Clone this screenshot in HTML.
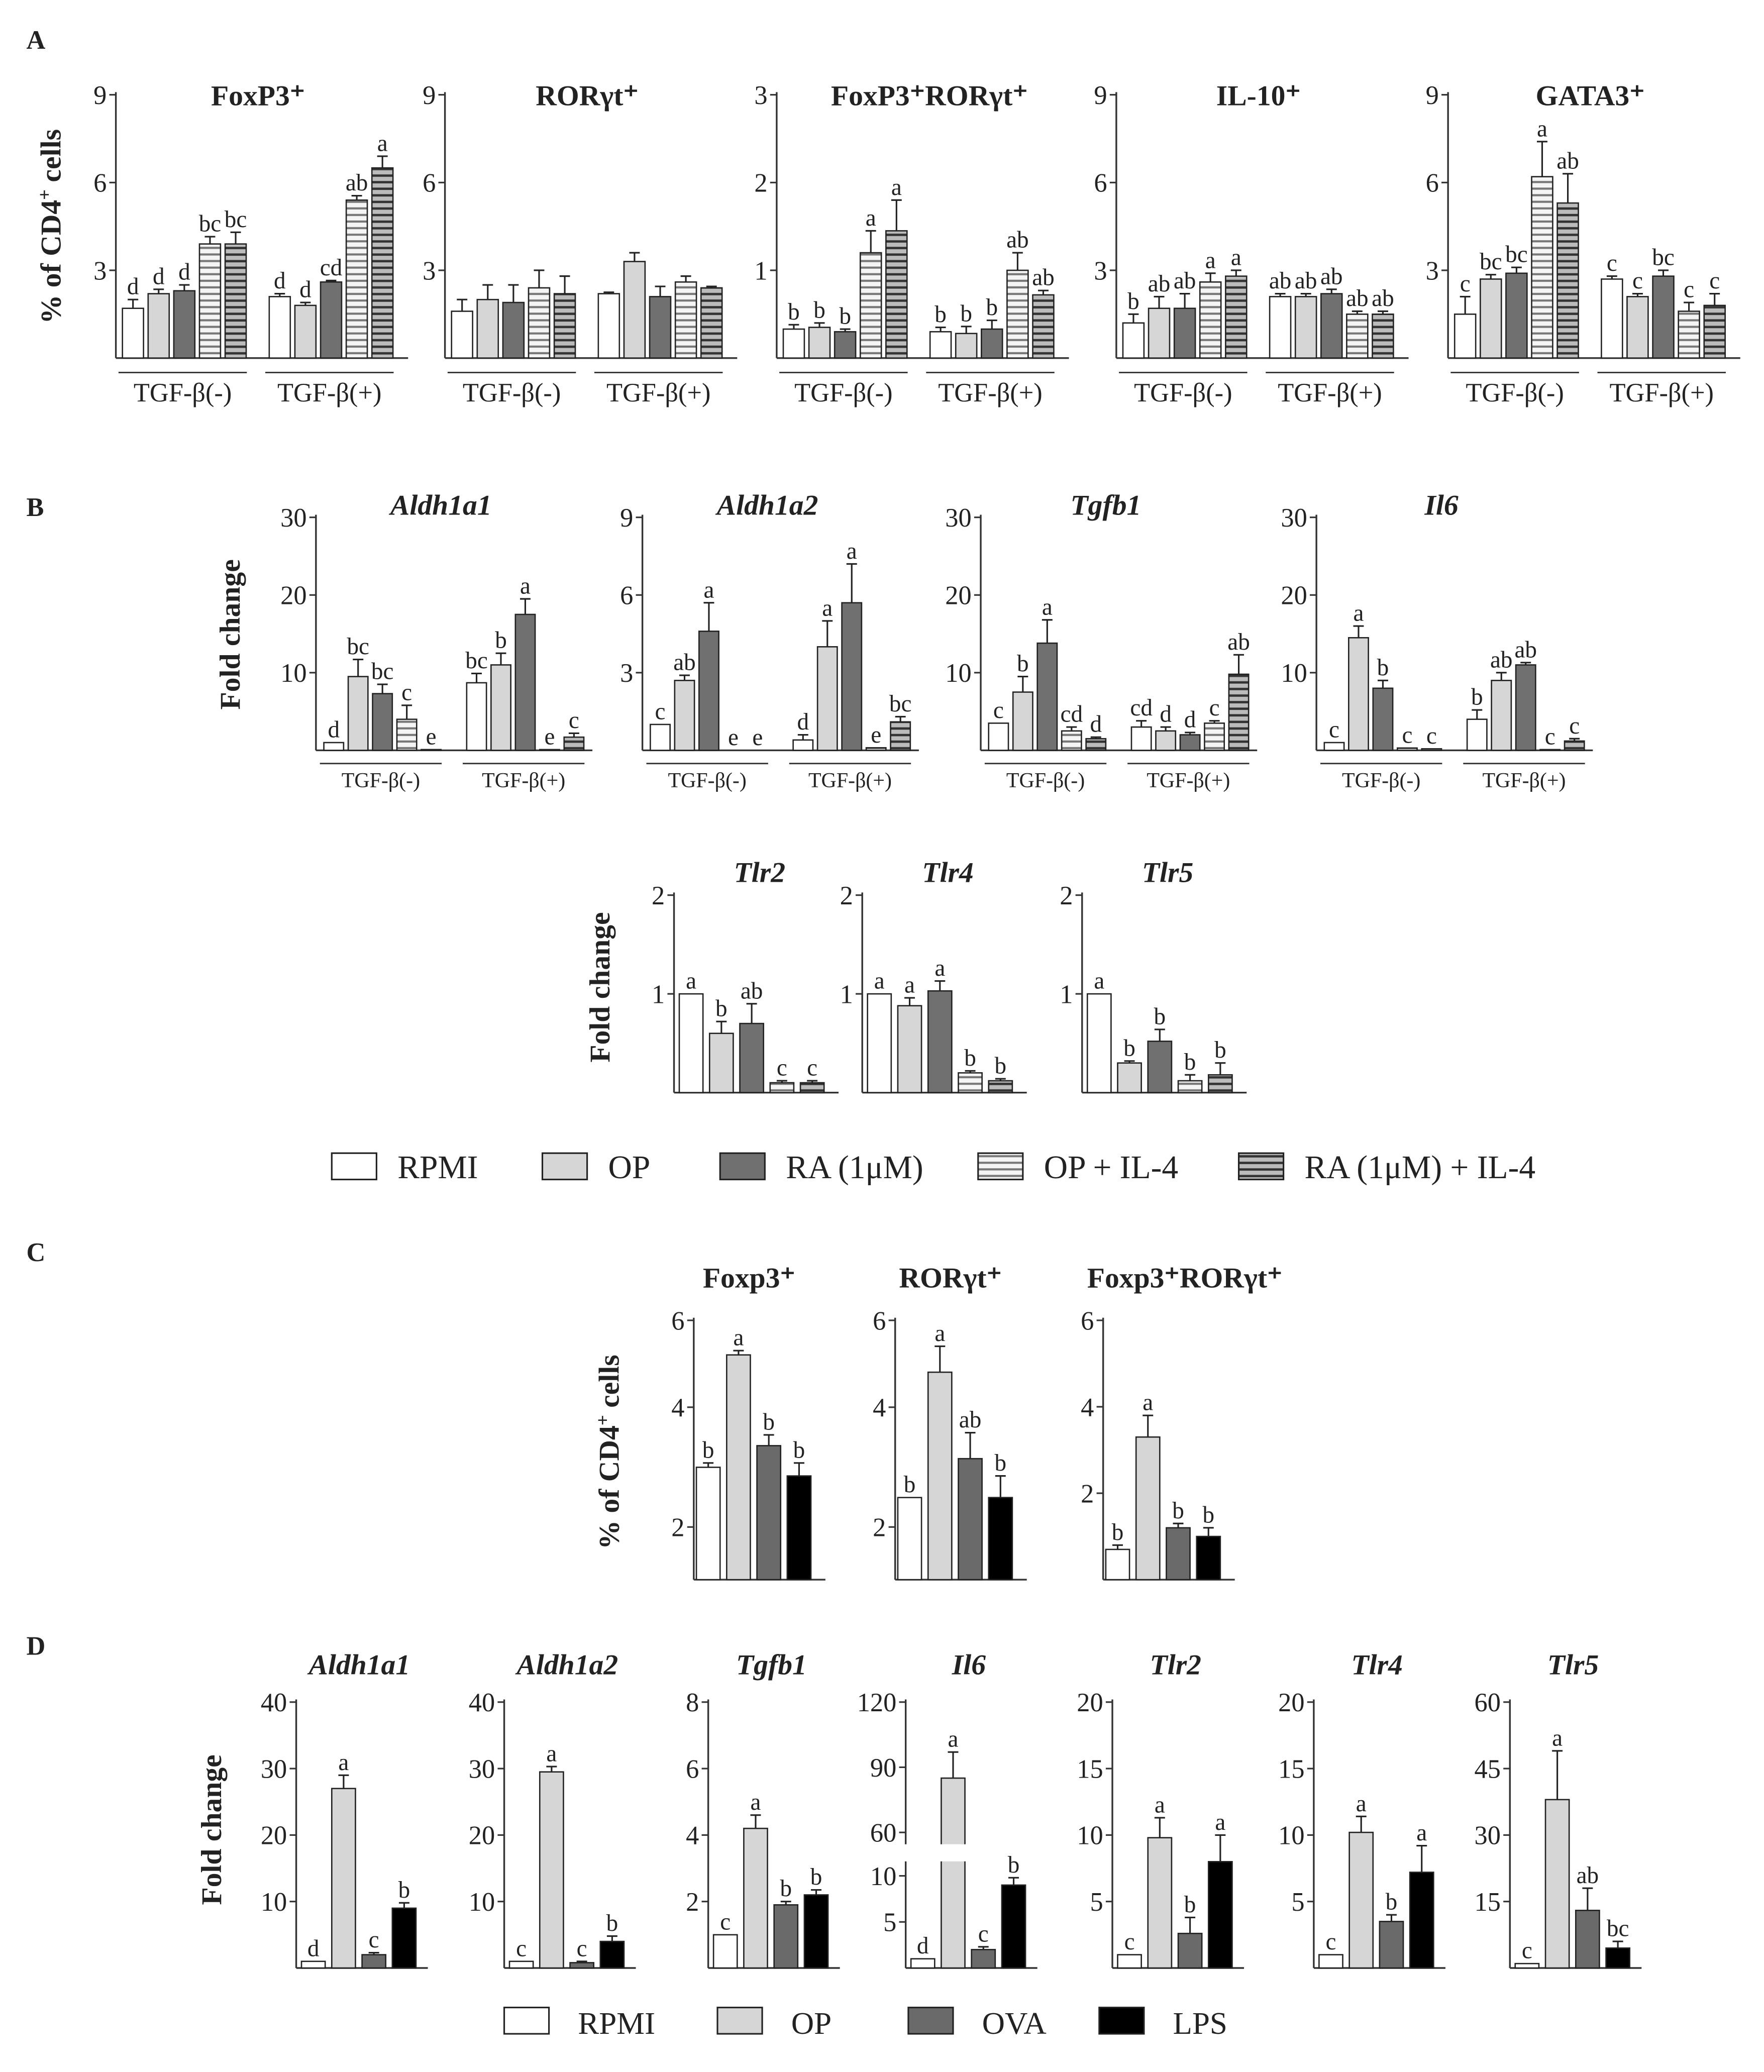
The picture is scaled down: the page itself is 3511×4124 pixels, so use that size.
<!DOCTYPE html>
<html><head><meta charset="utf-8"><style>
html,body{margin:0;padding:0;background:#fff}
svg{display:block}
text{font-family:"Liberation Serif",serif;fill:#222}
</style></head><body>
<svg id="fig" width="3511" height="4124" viewBox="0 0 1340 1574" xmlns="http://www.w3.org/2000/svg">
<defs>
<pattern id="stLight" width="6" height="5" patternUnits="userSpaceOnUse"><rect width="6" height="5" fill="#f4f4f4"/><rect y="2.5" width="6" height="1.6" fill="#777"/></pattern>
<pattern id="stDark" width="6" height="5" patternUnits="userSpaceOnUse"><rect width="6" height="5" fill="#bbb"/><rect y="2.5" width="6" height="1.8" fill="#333"/></pattern>
</defs>
<g id="root"></g>
</svg>
<script>
// ---- Data ----
const fillsA = ['#fff','#d6d6d6','#707070','url(#stLight)','url(#stDark)'];
const fillsC = ['#fff','#d6d6d6','#6a6a6a','#000'];
const aTitles = ['FoxP3⁺','RORγt⁺','FoxP3⁺RORγt⁺','IL-10⁺','GATA3⁺'];
const aMax = [9,9,3,9,9];
const aTicks = [[3,6,9],[3,6,9],[1,2,3],[3,6,9],[3,6,9]];
const aVals = [[1.7,2.2,2.3,3.9,3.9,2.1,1.8,2.6,5.4,6.5],[1.6,2.0,1.9,2.4,2.2,2.2,3.3,2.1,2.6,2.4],[0.33,0.35,0.3,1.2,1.45,0.3,0.28,0.33,1.0,0.72],[1.2,1.7,1.7,2.6,2.8,2.1,2.1,2.2,1.5,1.5],[1.5,2.7,2.9,6.2,5.3,2.7,2.1,2.8,1.6,1.8]];
const aErr = [[.3,.15,.2,.25,.4,.1,.1,.05,.15,.4],[.4,.5,.6,.6,.6,.05,.3,.35,.2,.05],[.05,.05,.03,.25,.35,.05,.08,.1,.2,.05],[.3,.4,.5,.3,.2,.1,.1,.15,.1,.1],[.6,.15,.2,1.2,1.0,.1,.1,.2,.3,.4]];
const aLet = [['d','d','d','bc','bc','d','d','cd','ab','a'],['','','','','','','','','',''],['b','b','b','a','a','b','b','b','ab','ab'],['b','ab','ab','a','a','ab','ab','ab','ab','ab'],['c','bc','bc','a','ab','c','c','bc','c','c']];
const bTitles = ['Aldh1a1','Aldh1a2','Tgfb1','Il6'];
const bMax = [30,9,30,30];
const bTicks = [[10,20,30],[3,6,9],[10,20,30],[10,20,30]];
const bVals = [[1,9.5,7.3,4,0.1,8.7,11,17.5,0.1,1.7],[1,2.7,4.6,0,0,0.4,4,5.7,0.1,1.1],[3.5,7.5,13.8,2.5,1.5,3,2.5,2,3.5,9.8],[1,14.5,8,0.3,0.2,4,9,11,0.1,1.2]];
const bErr = [[0,2.2,1.2,1.8,0,1.2,1.5,2,0,.5],[0,.2,1.1,0,0,.2,1,1.5,0,.2],[0,2,3,.5,.2,.8,.5,.3,.3,2.5],[0,1.5,1,0,0,1.2,1,.3,0,.3]];
const bLet = [['d','bc','bc','c','e','bc','b','a','e','c'],['c','ab','a','e','e','d','a','a','e','bc'],['c','b','a','cd','d','cd','d','d','c','ab'],['c','a','b','c','c','b','ab','ab','c','c']];
const tTitles = ['Tlr2','Tlr4','Tlr5'];
const tVals = [[1,0.6,0.7,0.1,0.1],[1,0.88,1.03,0.2,0.12],[1,0.3,0.52,0.12,0.18]];
const tErr = [[0,.12,.2,.02,.02],[0,.08,.1,.02,.02],[0,.02,.12,.06,.12]];
const tLet = [['a','b','ab','c','c'],['a','a','a','b','b'],['a','b','b','b','b']];
const cTitles = ['Foxp3⁺','RORγt⁺','Foxp3⁺RORγt⁺'];
const cVals = [[2.6,5.2,3.1,2.4],[1.9,4.8,2.8,1.9],[0.7,3.3,1.2,1.0]];
const cErr = [[.1,.1,.25,.3],[0,.6,.6,.5],[.1,.5,.1,.2]];
const cLet = [['b','a','b','b'],['b','a','ab','b'],['b','a','b','b']];
const dTitles = ['Aldh1a1','Aldh1a2','Tgfb1','Il6','Tlr2','Tlr4','Tlr5'];
const dMax = [40,40,8,120,20,20,60];
const dTicks = [[10,20,30,40],[10,20,30,40],[2,4,6,8],[5,10,60,90,120],[5,10,15,20],[5,10,15,20],[15,30,45,60]];
const dVals = [[1,27,2,9],[1,29.5,0.8,4],[1,4.2,1.9,2.2],[1,85,2,9],[1,9.8,2.6,8],[1,10.2,3.5,7.2],[1,38,13,4.5]];
const dErr = [[0,2,.3,.8],[0,.8,.2,.8],[0,.4,.1,.15],[0,12,.3,.8],[0,1.5,1.2,2],[0,1.2,.5,2],[0,11,5,1.5]];
const dLet = [['d','a','c','b'],['c','a','c','b'],['c','a','b','b'],['d','a','c','b'],['c','a','b','a'],['c','a','b','a'],['c','a','ab','bc']];

const NS='http://www.w3.org/2000/svg';
const root=document.getElementById('root');
function el(tag,attrs,parent,txt){const e=document.createElementNS(NS,tag);for(const k in attrs)e.setAttribute(k,attrs[k]);if(txt!==undefined)e.textContent=txt;(parent||root).appendChild(e);return e;}

function panel(o){
  const g=el('g',{});
  
  
  const y=o.scale;
  const axEnd=o.x+o.axisLen;
  el('line',{x1:o.x,y1:o.yTop-2,x2:o.x,y2:o.y0,stroke:'#333','stroke-width':1.3},g);
  el('line',{x1:o.x,y1:o.y0,x2:axEnd,y2:o.y0,stroke:'#333','stroke-width':1.3},g);
  o.ticks.forEach((t,i)=>{const ty=o.tickPos?o.tickPos[i]:y(t);
    el('line',{x1:o.x-5,y1:ty,x2:o.x,y2:ty,stroke:'#333','stroke-width':1.2},g);
    const tl=el('text',{x:o.x-7,y:ty+o.fs*0.35,'font-size':o.fs,'text-anchor':'end'},g,String(t));
    
    
  });
  const tt=el('text',{x:o.titleX,y:o.titleY,'font-size':o.tfs,'font-weight':'bold','font-style':o.italic?'italic':'normal','text-anchor':'middle'},g,o.title);
  
  
  o.vals.forEach((v,i)=>{
    const bx=o.x+o.start+i*o.step+(i>=o.nPer?o.gap:0);
    const top=y(v);
    const r=el('rect',{x:bx,y:top,width:o.bw,height:Math.max(0,o.y0-top),fill:o.fills[i%o.fills.length],stroke:'#222','stroke-width':1},g);
    
    
    const e=o.errs[i];let ly=top;
    if(e>0){const ey=y(v+e);el('line',{x1:bx+o.bw/2,y1:top,x2:bx+o.bw/2,y2:ey,stroke:'#222','stroke-width':1.2},g);el('line',{x1:bx+o.bw/2-4,y1:ey,x2:bx+o.bw/2+4,y2:ey,stroke:'#222','stroke-width':1.2},g);ly=ey;}
    if(o.lets[i]){const l=el('text',{x:bx+o.bw/2,y:ly-4,'font-size':o.lfs,'text-anchor':'middle'},g,o.lets[i]);
      
      }
  });
  if(o.groups){
    const glen=o.nPer*o.step;
    [0,1].forEach(k=>{const gx=o.x+o.start+k*(o.nPer*o.step+o.gap)-3;
      el('line',{x1:gx,y1:o.gy,x2:gx+glen,y2:o.gy,stroke:'#333','stroke-width':1.1},g);
      const gl=el('text',{x:gx+glen/2,y:o.gy+o.gfs+2,'font-size':o.gfs,'text-anchor':'middle'},g,k?'TGF-β(+)':'TGF-β(-)');
      
      });
  }
  return g;
}
function lin(y0,yTop,max){return v=>y0-(y0-yTop)*Math.min(v,max*1.5)/max;}

[['A',20,37],['B',20,392],['C',20,958],['D',20,1257]].forEach(p=>{const t=el('text',{x:p[1],y:p[2],'font-size':20,'font-weight':'bold'},root,p[0]);});
function ylab(x,y,s,n){const t=el('text',{x:x,y:y,'font-size':22,'font-weight':'bold','text-anchor':'middle',transform:`rotate(-90 ${x} ${y})`},root);t.innerHTML=s;}

// A
const axA=[88,338,590,848,1100];
axA.forEach((x,i)=>panel({name:'panel-a-'+i,x:x,y0:272,yTop:72,axisLen:222,scale:lin(272,72,aMax[i]),ticks:aTicks[i],fs:20,title:aTitles[i],titleX:x+(i==2?116:108),titleY:80,tfs:22,vals:aVals[i],errs:aErr[i],lets:aLet[i],fills:fillsA,start:5,step:19.5,bw:16,nPer:5,gap:14,lfs:18,groups:true,gy:283,gfs:20}));
ylab(46,172,'% of CD4<tspan baseline-shift="super" font-size="14">+</tspan> cells','y-axis-title-a');

// B
const axB=[240,488,745,1000];
axB.forEach((x,i)=>panel({name:'panel-b-'+i,x:x,y0:570,yTop:393,axisLen:210,scale:lin(570,393,bMax[i]),ticks:bTicks[i],fs:20,title:bTitles[i],titleX:x+95,titleY:391,tfs:22,italic:true,vals:bVals[i],errs:bErr[i],lets:bLet[i],fills:fillsA,start:6,step:18.5,bw:15,nPer:5,gap:16,lfs:18,groups:true,gy:580,gfs:16}));
ylab(182,482,'Fold change','y-axis-title-b');
const axT=[512,655,822];
axT.forEach((x,i)=>panel({name:'panel-tlr-'+i,x:x,y0:830,yTop:680,axisLen:125,scale:lin(830,680,2),ticks:[1,2],fs:20,title:tTitles[i],titleX:x+65,titleY:670,tfs:22,italic:true,vals:tVals[i],errs:tErr[i],lets:tLet[i],fills:fillsA,start:4,step:23,bw:18,nPer:5,gap:0,lfs:18}));
ylab(463,750,'Fold change','y-axis-title-tlr');
[[252,'RPMI'],[412,'OP'],[547,'RA (1μM)'],[743,'OP + IL-4'],[941,'RA (1μM) + IL-4']].forEach((l,i)=>{const g=el('g',{});el('rect',{x:l[0],y:876,width:34,height:20,fill:fillsA[i],stroke:'#222','stroke-width':1.2},g);el('text',{x:l[0]+50,y:895,'font-size':25},g,l[1]);});

// C
const axC=[527,680,838];
axC.forEach((x,i)=>panel({name:'panel-c-'+i,x:x,y0:1200,yTop:1003,axisLen:100,scale:lin(1200,1003,6),ticks:[2,4,6],tickPos:i<2?[1160,1069,1003]:null,fs:20,title:cTitles[i],titleX:x+(i==2?62:42),titleY:978,tfs:22,vals:cVals[i],errs:cErr[i],lets:cLet[i],fills:fillsC,start:2,step:23,bw:18,nPer:4,gap:0,lfs:18}));
ylab(470,1103,'% of CD4<tspan baseline-shift="super" font-size="14">+</tspan> cells','y-axis-title-c');

// D
const axD=[225,383,538,688,845,998,1147];
function il6(v){if(v<=10)return 1495-7*v; if(v<60)return 1425-(v-10)*0.66; return 1392-(v-60)*1.65;}
axD.forEach((x,i)=>{
  const sc=i==3?il6:lin(1495,1293,dMax[i]);
  panel({name:'panel-d-'+i,x:x,y0:1495,yTop:1293,axisLen:100,scale:sc,ticks:dTicks[i],fs:20,title:dTitles[i],titleX:x+48,titleY:1272,tfs:22,italic:true,vals:dVals[i],errs:dErr[i],lets:dLet[i],fills:fillsC,start:4,step:23,bw:18,nPer:4,gap:0,lfs:18});
  if(i==3){el('rect',{x:x-8,y:1401,width:60,height:13,fill:'#fff'});}
});
ylab(168,1390,'Fold change','y-axis-title-d');
[[383,'RPMI'],[545,'OP'],[690,'OVA'],[835,'LPS']].forEach((l,i)=>{const g=el('g',{});el('rect',{x:l[0],y:1525,width:34,height:20,fill:fillsC[i],stroke:'#222','stroke-width':1.2},g);el('text',{x:l[0]+56,y:1545,'font-size':24},g,l[1]);});
</script>
</body></html>
